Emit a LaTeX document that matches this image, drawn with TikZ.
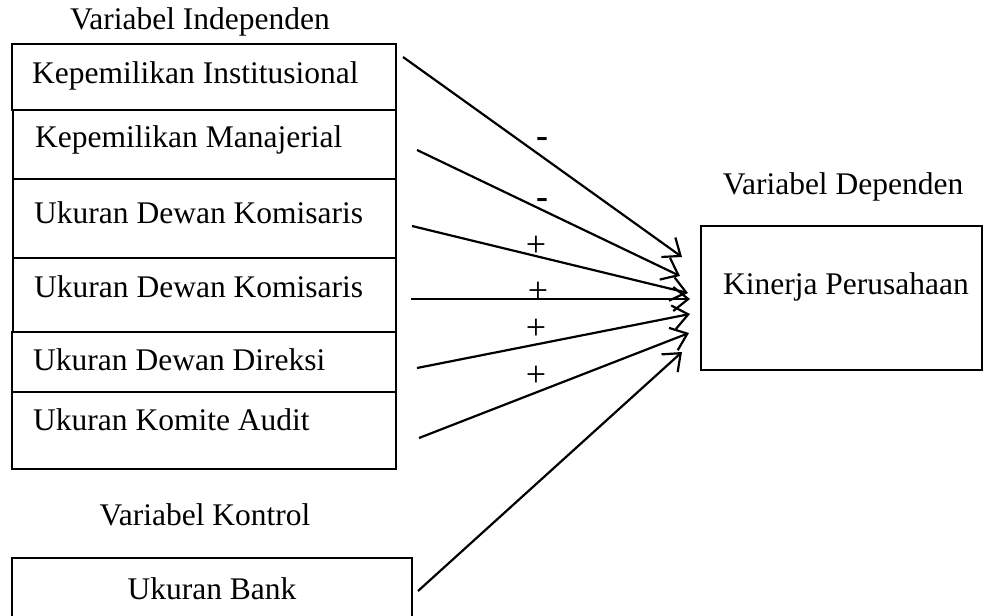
\documentclass[tikz,border=0pt]{standalone}
\usepackage{fontspec}
\setmainfont{Liberation Serif}
\usetikzlibrary{arrows.meta}
\begin{document}
\begin{tikzpicture}[x=1pt,y=-1pt,
  box/.style={draw,line width=2pt,anchor=north west,inner sep=0pt},
  lbl/.style={anchor=west,inner sep=0pt,font=\fontsize{31.5}{36}\selectfont},
  ctr/.style={inner sep=0pt,font=\fontsize{31.5}{36}\selectfont},
  sgn/.style={inner sep=0pt,font=\fontsize{36}{40}\selectfont},
  arr/.style={line width=2.2pt,-{Straight Barb[length=15pt,width=24pt,line width=2.2pt]}}]
\useasboundingbox (0,0) rectangle (984,615);

% left boxes
\node[box,minimum width=384pt,minimum height=66pt] (b1) at (11,43) {};
\node[box,minimum width=383pt,minimum height=69pt] (b2) at (12,109) {};
\node[box,minimum width=383pt,minimum height=79pt] (b3) at (12,178) {};
\node[box,minimum width=383pt,minimum height=74pt] (b4) at (12,257) {};
\node[box,minimum width=384pt,minimum height=60pt] (b5) at (11,331) {};
\node[box,minimum width=384pt,minimum height=77pt] (b6) at (11,391) {};

\node[lbl] (t1) at (32,76) {Kepemilikan Institusional};
\node[lbl] (t2) at (35,140) {Kepemilikan Manajerial};
\node[lbl] (t3) at (34,213) {Ukuran Dewan Komisaris};
\node[lbl] (t4) at (34,287) {Ukuran Dewan Komisaris};
\node[lbl] (t5) at (33,360) {Ukuran Dewan Direksi};
\node[lbl] (t6) at (33,420) {Ukuran Komite Audit};

\node[ctr] (hind) at (200,22) {Variabel Independen};
\node[ctr] (hkon) at (205,515) {Variabel Kontrol};
\node[ctr] (hdep) at (843,187) {Variabel Dependen};

% control box
\node[box,minimum width=400pt,minimum height=70pt] (bank) at (11,557) {};
\node[ctr] (tbank) at (212,589) {Ukuran Bank};

% dependent box
\node[box,minimum width=281pt,minimum height=144pt] (dep) at (700,225) {};
\node[ctr] (tdep) at (846,287) {Kinerja Perusahaan};

% arrow end points
\coordinate (s1) at (403,57);  \coordinate (e1) at (682,257);
\coordinate (s2) at (417,150); \coordinate (e2) at (680,276);
\coordinate (s3) at (412,226); \coordinate (e3) at (688,293);
\coordinate (s4) at (411,299); \coordinate (e4) at (690,299);
\coordinate (s5) at (417,368); \coordinate (e5) at (690,314);
\coordinate (s6) at (419,438); \coordinate (e6) at (689,333);
\coordinate (s7) at (418,591); \coordinate (e7) at (682,352);

\draw[arr] (s1) -- (e1);
\draw[arr] (s2) -- (e2);
\draw[arr] (s3) -- (e3);
\draw[arr] (s4) -- (e4);
\draw[arr] (s5) -- (e5);
\draw[arr] (s6) -- (e6);
\draw[arr] (s7) -- (e7);

% signs
\node[sgn] (m1) at (542,142) {\textbf{-}};
\node[sgn] (m2) at (542,203) {\textbf{-}};
\node[sgn] (p1) at (536,246) {+};
\node[sgn] (p2) at (538,292) {+};
\node[sgn] (p3) at (536,329) {+};
\node[sgn] (p4) at (536,376) {+};
\end{tikzpicture}
\end{document}
